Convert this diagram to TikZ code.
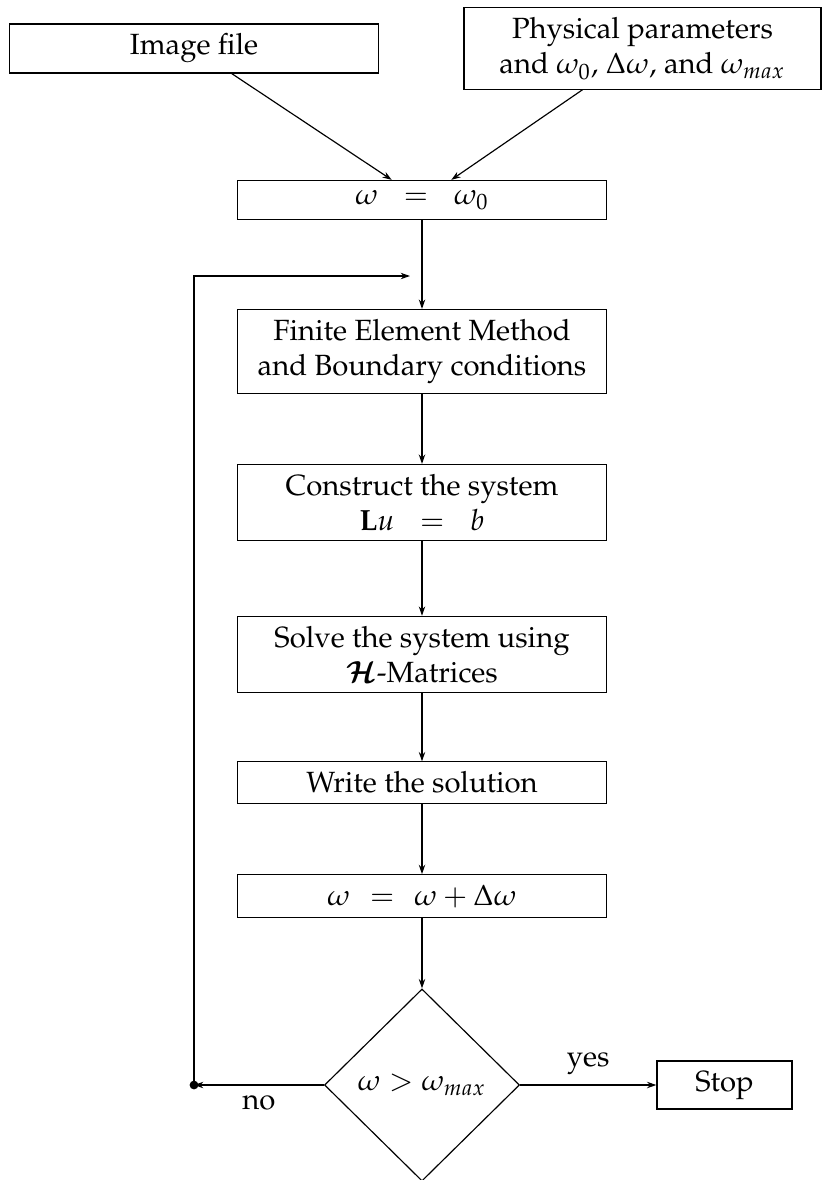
\documentclass[tikz,border=0pt]{standalone}
\usepackage[T1]{fontenc}
\usepackage{mathpazo}
\usepackage{amsmath,bm}
\usetikzlibrary{shapes.geometric,arrows.meta}
\begin{document}
\begin{tikzpicture}[x=0.342pt,y=-0.342pt,
  box/.style={draw, align=center, minimum width=126.2pt, inner sep=0.333em, line width=0.4pt},
  decision/.style={draw, diamond, aspect=1, minimum width=66.7pt, minimum height=65.7pt, inner sep=0pt, line width=0.4pt},
  conn/.style={line width=0.4pt, -{Stealth[length=3.2pt,width=2.2pt]}},
  lbl/.style={inner sep=3.33pt}]
\useasboundingbox (0,0) rectangle (822,1180);
\node[box] (img) at (194,48.5) {Image file};
\node[box, minimum width=122.1pt] (phys) at (642.5,48.5) {Physical parameters\\ and $\omega_0$, $\Delta\omega$, and $\omega_{max}$};
\node[box] (init) at (422,200) {$\omega\hspace{6pt}=\hspace{6pt}\omega_0$};
\node[box] (fem) at (422,351.5) {Finite Element Method\\ and Boundary conditions};
\node[box] (cons) at (422,502.5) {Construct the system\\ $\mathbf{L}u\hspace{6pt}=\hspace{6pt}b$};
\node[box] (solve) at (422,654.5) {Solve the system using\\ $\bm{\mathcal{H}}$-Matrices};
\node[box] (write) at (422,782.5) {Write the solution};
\node[box] (incr) at (422,896) {$\omega\hspace{4pt}=\hspace{4pt}\omega+\Delta\omega$};
\node[decision] (dec) at (422,1085) {$\omega>\omega_{max}$};
\node[box, minimum width=46.2pt] (stop) at (724.5,1085) {Stop};
\coordinate (dot) at (194,1085);
\coordinate (loop) at (410,276);
\fill (dot) circle (1.5pt);
\draw[conn] (img) -- (init);
\draw[conn] (phys) -- (init);
\draw[conn] (init) -- (fem);
\draw[conn] (fem) -- (cons);
\draw[conn] (cons) -- (solve);
\draw[conn] (solve) -- (write);
\draw[conn] (write) -- (incr);
\draw[conn] (incr) -- (dec);
\draw[conn] (dec) -- node[lbl, above] (yes) {yes} (stop);
\draw[conn] (dec) -- node[lbl, below] (no) {no} (dot);
\draw[conn] (dot) |- (loop);
\end{tikzpicture}
\end{document}
